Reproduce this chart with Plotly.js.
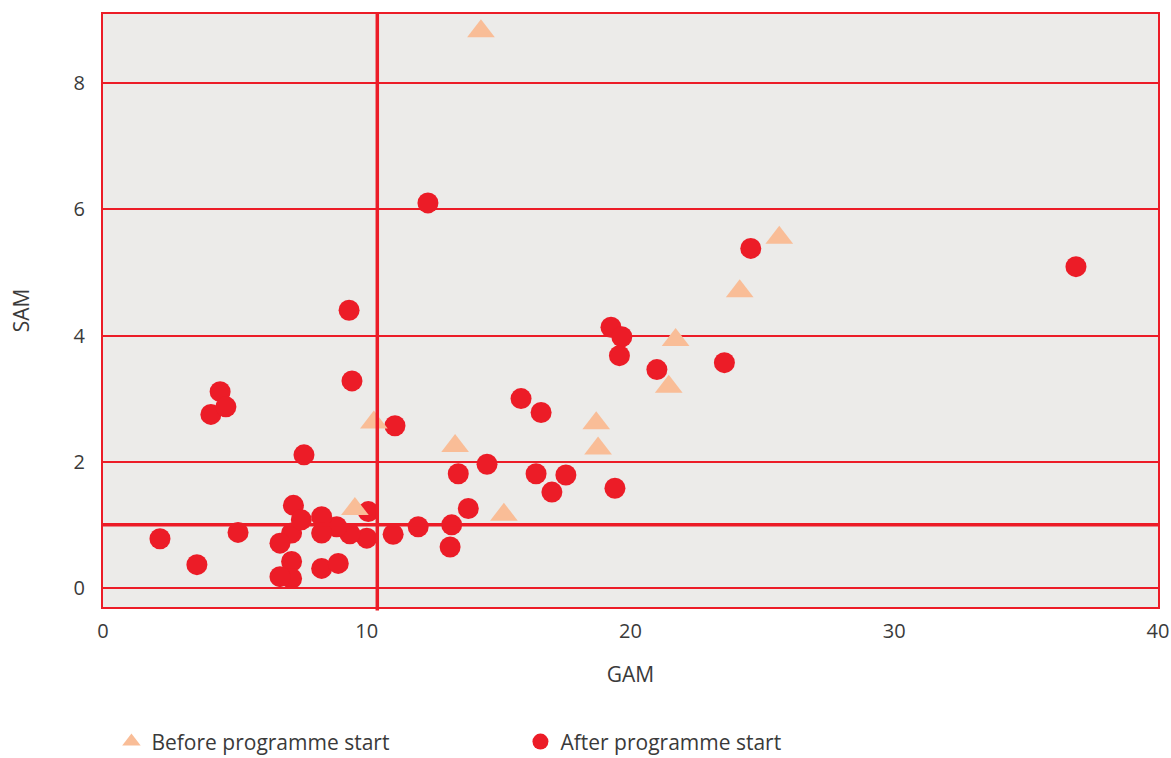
<!DOCTYPE html>
<html>
<head>
<meta charset="utf-8">
<script src="https://cdn.plot.ly/plotly-3.0.1.min.js"></script>
<style>
  html, body { margin: 0; padding: 0; background: #ffffff; }
  #chart { width: 1171px; height: 758px; }
</style>
</head>
<body>
<div id="chart"></div>
<script>
// Before programme start (GAM %, SAM %)
const beforeGAM = [14.33, 25.64, 24.14, 21.71, 21.45, 18.70, 18.77, 10.27, 13.35, 15.20, 9.55];
const beforeSAM = [8.82, 5.55, 4.70, 3.93, 3.19, 2.61, 2.21, 2.62, 2.25, 1.16, 1.25];

// After programme start (GAM %, SAM %)
const afterGAM = [2.16, 3.56, 5.12, 4.09, 4.44, 4.66, 7.62, 9.33, 9.44, 12.32,
                  11.07, 36.89, 24.56, 23.56, 21.00, 19.26, 19.67, 19.58, 19.41, 15.85,
                  16.61, 14.56, 13.47, 16.42, 17.55, 17.02, 13.85, 13.22, 13.16, 11.95,
                  11.00, 10.06, 10.00, 9.36, 8.86, 8.29, 8.29, 8.29, 8.92, 7.22,
                  7.15, 7.15, 7.15, 6.71, 6.71, 7.52];
const afterSAM = [0.78, 0.37, 0.88, 2.75, 3.11, 2.87, 2.11, 4.40, 3.28, 6.10,
                  2.57, 5.09, 5.38, 3.57, 3.46, 4.13, 3.98, 3.68, 1.58, 3.00,
                  2.78, 1.96, 1.81, 1.81, 1.79, 1.52, 1.26, 1.00, 0.65, 0.97,
                  0.85, 1.21, 0.79, 0.86, 0.97, 1.13, 0.87, 0.31, 0.39, 1.31,
                  0.87, 0.42, 0.15, 0.71, 0.18, 1.08];

const seriesNames = ['Before programme start', 'After programme start'];
const xTickVals = [0, 10, 20, 30, 40];
const yTickVals = [0, 2, 4, 6, 8];
const gamThreshold = 10.4;
const samThreshold = 1;

const RED = '#ec1c27';
const PEACH = '#f9bd97';
const FONT = 'Open Sans, sans-serif';
const TEXT = '#3a3a3a';

const traces = [
  {
    x: afterGAM, y: afterSAM, name: seriesNames[1], type: 'scatter', mode: 'markers',
    marker: { symbol: 'circle', size: 21, color: RED, line: { width: 0 } }
  },
  {
    x: beforeGAM, y: beforeSAM, name: seriesNames[0], type: 'scatter', mode: 'markers',
    marker: { symbol: 'triangle-up', size: 24, color: PEACH, line: { width: 0 } }
  }
];

const layout = {
  width: 1171, height: 758,
  margin: { l: 103, r: 13, t: 14, b: 151, autoexpand: false },
  paper_bgcolor: '#ffffff',
  plot_bgcolor: '#ecebe9',
  font: { family: FONT, size: 20, color: TEXT },
  showlegend: true,
  legend: {
    orientation: 'h', x: 0.008, xanchor: 'left', y: -0.193, yanchor: 'top',
    traceorder: 'reversed', entrywidth: 364, entrywidthmode: 'pixels',
    font: { family: FONT, size: 21, color: TEXT }, bgcolor: 'rgba(0,0,0,0)'
  },
  xaxis: {
    range: [0, 40], tickvals: xTickVals, ticks: '', showgrid: false, zeroline: false,
    showline: true, mirror: true, linecolor: RED, linewidth: 2,
    ticklabelstandoff: 5,
    tickfont: { family: FONT, size: 20, color: TEXT },
    title: { text: 'GAM', font: { family: FONT, size: 21, color: TEXT }, standoff: 24 }
  },
  yaxis: {
    range: [-0.301, 9.093], tickvals: yTickVals, ticks: '', showgrid: true,
    gridcolor: RED, gridwidth: 2, zeroline: false,
    showline: true, mirror: true, linecolor: RED, linewidth: 2,
    ticklabelstandoff: 12,
    tickfont: { family: FONT, size: 20, color: TEXT },
    title: { text: 'SAM', font: { family: FONT, size: 21, color: TEXT }, standoff: 38 }
  },
  shapes: [
    { type: 'line', xref: 'x', yref: 'paper', x0: gamThreshold, x1: gamThreshold, y0: -0.006, y1: 1,
      line: { color: RED, width: 3.5 }, layer: 'above' },
    { type: 'line', xref: 'paper', yref: 'y', x0: 0, x1: 1, y0: samThreshold, y1: samThreshold,
      line: { color: RED, width: 3.5 }, layer: 'above' }
  ]
};

Plotly.newPlot('chart', traces, layout, { displayModeBar: false, staticPlot: true });
</script>
</body>
</html>
